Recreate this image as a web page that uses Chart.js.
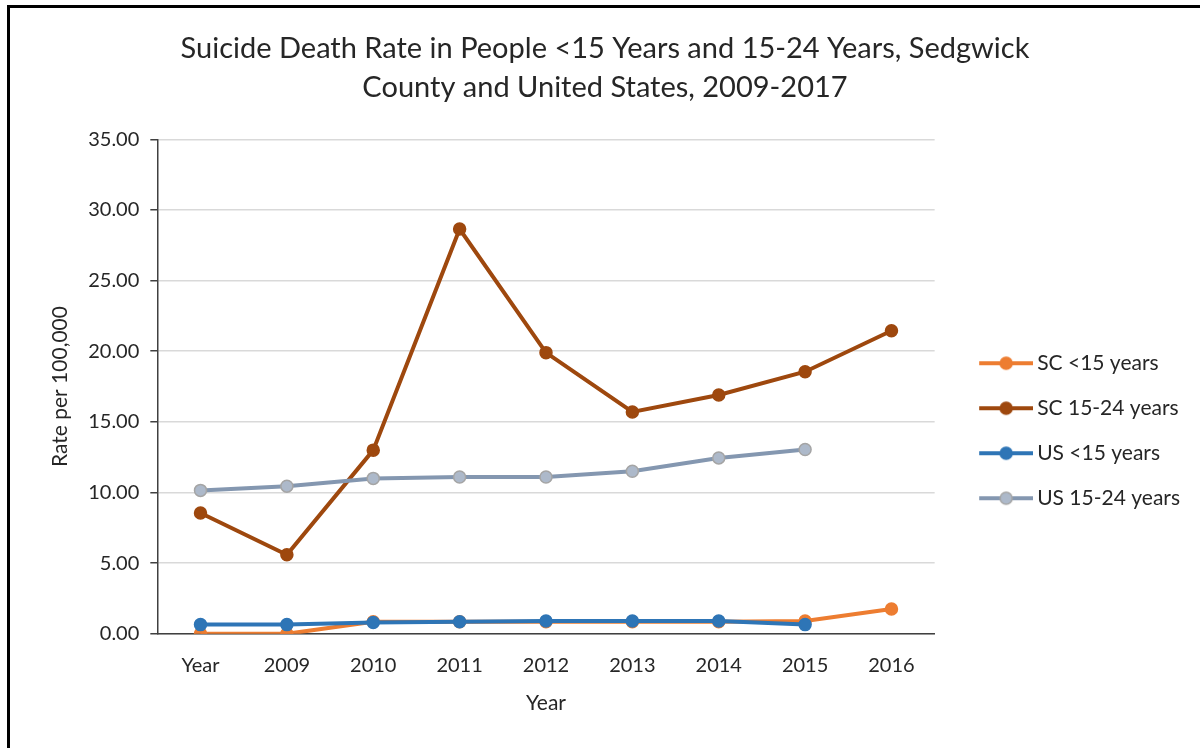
<!DOCTYPE html>
<html>
<head>
<meta charset="utf-8">
<script src="https://cdn.jsdelivr.net/npm/chart.js@4"></script>
<style>
    body { margin: 0; background: #fff; }
    #wrap { position: relative; width: 1200px; height: 748px; }
    #frame { position: absolute; left: 7px; top: 5px; right: -10px; bottom: -10px;
             border-left: 3px solid #000; border-top: 3px solid #000; pointer-events: none; }
</style>
</head>
<body>
<div id="wrap">
    <canvas id="myChart" width="1200" height="748"></canvas>
    <div id="frame"></div>
</div>
<script>
const categories = ['Year', '2009', '2010', '2011', '2012', '2013', '2014', '2015', '2016'];
const scUnder15 = [0, 0, 0.85, 0.85, 0.85, 0.85, 0.85, 0.9, 1.75];
const sc15to24 = [8.55, 5.6, 13.0, 28.65, 19.9, 15.7, 16.9, 18.55, 21.45];
const usUnder15 = [0.65, 0.65, 0.8, 0.85, 0.9, 0.9, 0.9, 0.65, null];
const us15to24 = [10.15, 10.45, 11.0, 11.1, 11.1, 11.5, 12.45, 13.05, null];
const yTicks = [0, 5, 10, 15, 20, 25, 30, 35];

const FONT = 'Lato, "Open Sans", sans-serif';
const TEXT = '#262626';

// legend icon: short line with a marker in the middle
function legendIcon(line, fill, border) {
    const c = document.createElement('canvas');
    c.width = 81;
    c.height = 16;
    const ctx = c.getContext('2d');
    ctx.strokeStyle = line;
    ctx.lineWidth = 4;
    ctx.beginPath();
    ctx.moveTo(27, 8);
    ctx.lineTo(81, 8);
    ctx.stroke();
    ctx.beginPath();
    ctx.arc(54, 8, 6, 0, Math.PI * 2);
    ctx.fillStyle = fill;
    ctx.fill();
    ctx.lineWidth = 1.5;
    ctx.strokeStyle = border;
    ctx.stroke();
    return c;
}

const series = [
    {label: 'SC <15 years', data: scUnder15, line: '#ED7D31', fill: '#ED7D31', border: '#ED7D31', order: 4},
    {label: 'SC 15-24 years', data: sc15to24, line: '#9E480E', fill: '#9E480E', border: '#9E480E', order: 3},
    {label: 'US <15 years', data: usUnder15, line: '#2E75B6', fill: '#2E75B6', border: '#2E75B6', order: 2},
    {label: 'US 15-24 years', data: us15to24, line: '#8497B0', fill: '#ADB9CA', border: '#A5A5A5', order: 1}
];
const icons = series.map(s => legendIcon(s.line, s.fill, s.border));

const chart = new Chart(document.getElementById('myChart'), {
    type: 'line',
    data: {
        labels: categories,
        datasets: series.map(s => ({
            label: s.label,
            data: s.data,
            order: s.order,
            borderColor: s.line,
            backgroundColor: s.fill,
            borderWidth: 4,
            pointRadius: 6,
            pointHoverRadius: 6,
            pointBackgroundColor: s.fill,
            pointBorderColor: s.border,
            pointBorderWidth: 1.5,
            tension: 0,
            spanGaps: false
        }))
    },
    options: {
        responsive: false,
        animation: false,
        devicePixelRatio: 1,
        layout: {padding: {left: 20, right: 10, top: 0, bottom: 32}},
        plugins: {
            title: {
                display: true,
                text: ['Suicide Death Rate in People <15 Years and 15-24 Years, Sedgwick',
                       'County and United States, 2009-2017'],
                color: TEXT,
                font: {family: FONT, size: 29, weight: 'normal', lineHeight: 1.35},
                padding: {top: 29, bottom: 32}
            },
            legend: {
                position: 'right',
                title: {display: true, text: '', padding: {top: 65, bottom: 66}},
                labels: {
                    usePointStyle: true,
                    pointStyleWidth: 68,
                    boxHeight: 16,
                    padding: 24,
                    color: TEXT,
                    font: {family: FONT, size: 21},
                    sort: (a, b) => a.datasetIndex - b.datasetIndex,
                    generateLabels: c => Chart.defaults.plugins.legend.labels.generateLabels(c)
                        .map(l => { l.pointStyle = icons[l.datasetIndex]; return l; })
                }
            },
            tooltip: {enabled: false}
        },
        scales: {
            x: {
                offset: true,
                grid: {display: false},
                border: {display: true, color: '#404040', width: 1.5},
                ticks: {color: TEXT, font: {family: FONT, size: 20}, padding: 12},
                title: {display: true, text: 'Year', color: TEXT,
                        font: {family: FONT, size: 21}, padding: {top: 1, bottom: 0}}
            },
            y: {
                min: 0,
                max: 35,
                afterBuildTicks: axis => { axis.ticks = yTicks.map(v => ({value: v})); },
                grid: {color: '#D9D9D9', lineWidth: 1.5, tickLength: 7, tickColor: '#404040'},
                border: {display: true, color: '#404040', width: 1.5},
                ticks: {color: TEXT, font: {family: FONT, size: 20}, padding: 11,
                        callback: v => v.toFixed(2)},
                title: {display: true, text: 'Rate per 100,000', color: TEXT,
                        font: {family: FONT, size: 21}, padding: {top: 28, bottom: 4}}
            }
        }
    }
});
</script>
</body>
</html>
